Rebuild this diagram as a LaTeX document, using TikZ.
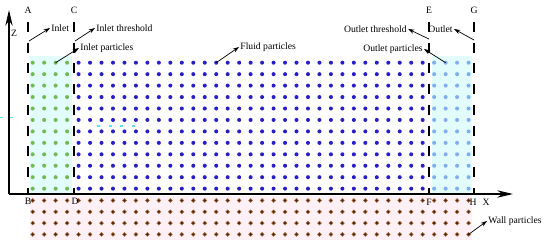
\documentclass[tikz,border=0pt]{standalone}
\usepackage{fontspec}
\setmainfont{Liberation Serif}
\usetikzlibrary{arrows.meta}

\definecolor{inletdot}{RGB}{115,185,85}
\definecolor{fluiddot}{RGB}{40,30,200}
\definecolor{outletdot}{RGB}{130,175,235}
\definecolor{walldot}{RGB}{70,35,15}
\definecolor{wallrim}{RGB}{170,110,60}
\definecolor{flowbg}{RGB}{225,252,250}
\definecolor{wallbg}{RGB}{255,240,245}
\definecolor{stray}{RGB}{90,230,240}

\begin{document}
\begin{tikzpicture}[x=0.02cm, y=0.02cm, font=\fontsize{5.5}{6.5}\selectfont,
    lbl/.style={inner sep=0.6pt},
    ann/.style={-{Stealth[length=3.6pt,width=2.4pt]}, line width=0.4pt},
    bound/.style={line width=0.7pt, dash pattern=on 5.6pt off 6.2pt},
    axis/.style={line width=0.8pt, -{Stealth[length=9pt,width=4.2pt]}}]
    \useasboundingbox (-9,-50) rectangle (541,194);
    \fill[flowbg] (21,1) rectangle (63,138);
    \fill[flowbg] (423,1) rectangle (463,138);
    \fill[wallbg] (21,-2) rectangle (463,-46);
    \foreach \x/\y in {-9/76.5,1/76.5,88/68,100/68,111/68,123/68} {\draw[stray, line width=0.9pt] (\x,\y) -- ++(3,0);}
    \coordinate (O) at (0,0);
    \coordinate (Ztip) at (0,184);
    \coordinate (Xtip) at (504,0);
    \coordinate (A) at (19,172);
    \coordinate (B) at (19,0);
    \coordinate (C) at (65,172);
    \coordinate (D) at (65,0);
    \coordinate (E) at (420,172);
    \coordinate (F) at (420,0);
    \coordinate (G) at (465,172);
    \coordinate (H) at (465,0);
    \foreach \p/\q in {A/B,C/D,E/F,G/H} {\draw[bound] (\p) -- (\q);}
    \foreach \i in {0,...,3} \foreach \j in {0,...,11} {\fill[inletdot] ({23.7+11.47*\i},{131.3-11.45*\j}) circle (1.15pt);}
    \foreach \i in {4,...,34} \foreach \j in {0,...,11} {\fill[fluiddot] ({23.7+11.47*\i},{131.3-11.45*\j}) circle (1.15pt);}
    \foreach \i in {35,...,38} \foreach \j in {0,...,11} {\fill[outletdot] ({23.7+11.47*\i},{131.3-11.45*\j}) circle (1.15pt);}
    \foreach \i in {0,...,38} \foreach \k in {0,...,3} {\filldraw[fill=walldot, draw=wallrim, line width=0.3pt] ({23.7+11.47*\i},{-6.5-11.3*\k}) circle (1.1pt);}
    \draw[axis] (O) -- (Ztip);
    \draw[axis] (O) -- (Xtip);
    \node[lbl] (lA) at (19,184) {A};
    \node[lbl] (lC) at (65,184) {C};
    \node[lbl] (lE) at (420,184) {E};
    \node[lbl] (lG) at (465,184) {G};
    \node[lbl] (lB) at (19,-7) {B};
    \node[lbl] (lD) at (66,-7) {D};
    \node[lbl] (lF) at (420,-8) {F};
    \node[lbl] (lH) at (464,-8) {H};
    \node[lbl] (lX) at (477,-8) {X};
    \node[lbl] (lZ) at (5,161) {Z};
    \coordinate (inletpt) at (20,153);
    \coordinate (inthrpt) at (66,153);
    \coordinate (inpartpt) at (46.6,131.3);
    \coordinate (fluidpt) at (207.2,131.3);
    \coordinate (outthrpt) at (420,155);
    \coordinate (outletpt) at (465,154);
    \coordinate (outpartpt) at (436.6,131.3);
    \coordinate (wallpt) at (459.6,-40.4);
    \node[lbl, anchor=west] (inlet) at (41,166) {Inlet};
    \node[lbl, anchor=west] (inthr) at (86,166) {Inlet threshold};
    \node[lbl, anchor=west] (inpart) at (70,146) {Inlet particles};
    \node[lbl, anchor=west] (fluid) at (230,147) {Fluid particles};
    \node[lbl, anchor=east] (outthr) at (399,165) {Outlet threshold};
    \node[lbl, anchor=east] (outlet) at (445,165) {Outlet};
    \node[lbl, anchor=east] (outpart) at (415,145) {Outlet particles};
    \node[lbl, anchor=west] (wall) at (478,-27) {Wall particles};
    \draw[ann] (inletpt) -- (inlet.west);
    \draw[ann] (inthrpt) -- (inthr.west);
    \draw[ann] (inpartpt) -- (inpart.west);
    \draw[ann] (fluidpt) -- (fluid.west);
    \draw[ann] (outthrpt) -- (outthr.east);
    \draw[ann] (outletpt) -- (outlet.east);
    \draw[ann] (outpartpt) -- (outpart.east);
    \draw[ann] (wallpt) -- (wall.west);
\end{tikzpicture}
\end{document}
